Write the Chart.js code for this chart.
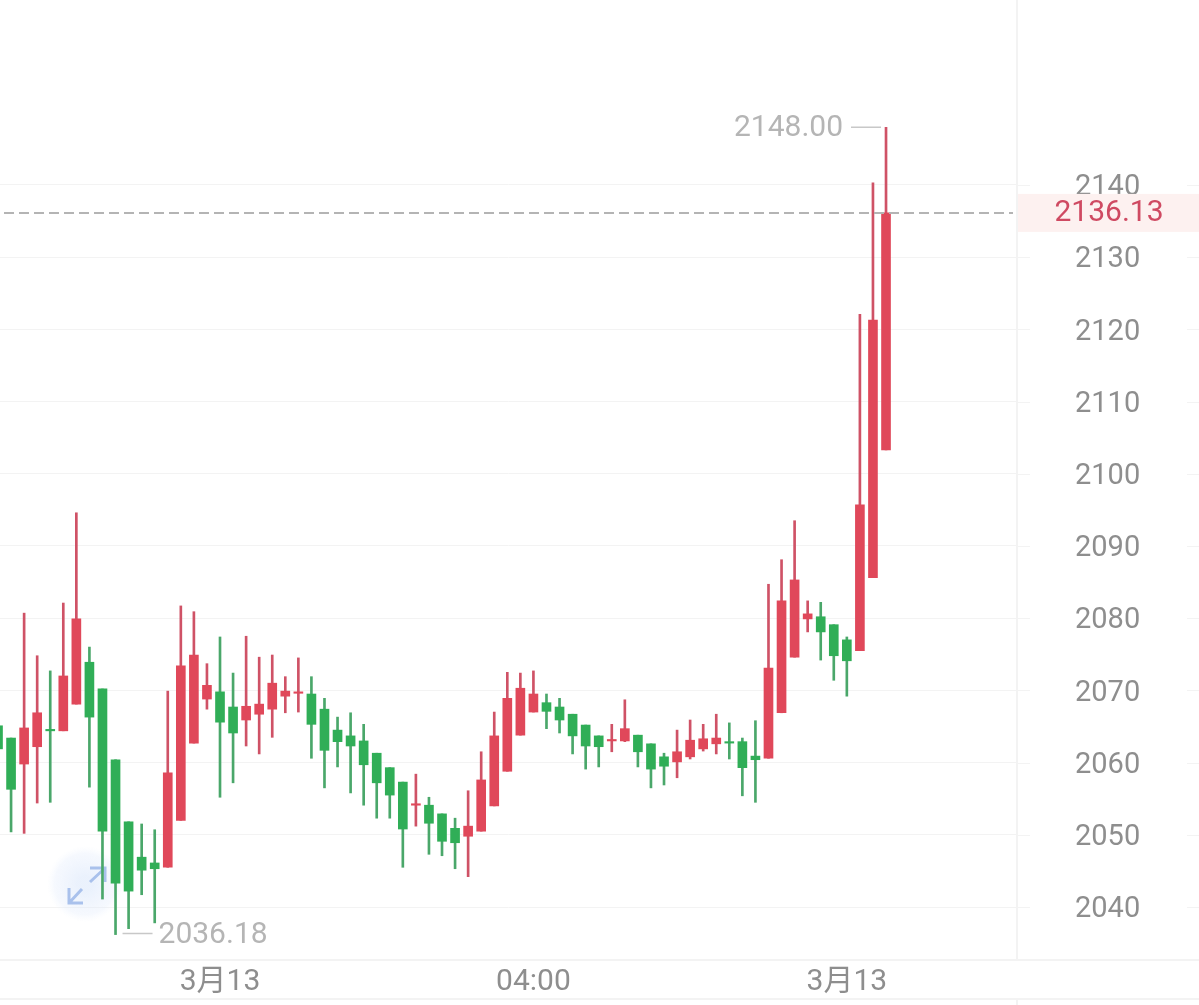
<!DOCTYPE html>
<html>
<head>
<meta charset="utf-8">
<title>K线</title>
<script src="https://cdn.jsdelivr.net/npm/chart.js@4/dist/chart.umd.min.js"></script>
<style>
    html, body { margin: 0; padding: 0; background: #fff; }
    canvas { display: block; }
</style>
</head>
<body>
<canvas id="kline" width="1199" height="1005"></canvas>
<script>
// values, candle by candle
const opens = [2065.1, 2063.4, 2059.8, 2062.2, 2064.6, 2064.4, 2068.1, 2073.9, 2070.2, 2060.4,
    2051.8, 2046.9, 2046.1, 2045.5, 2052.0, 2062.7, 2068.8, 2069.8, 2067.7, 2065.9,
    2066.7, 2067.4, 2069.2, 2069.6, 2069.5, 2067.4, 2064.5, 2063.7, 2063.0, 2061.3,
    2059.3, 2057.3, 2054.1, 2054.1, 2052.9, 2050.9, 2049.8, 2050.5, 2054.0, 2058.8,
    2063.8, 2067.0, 2068.3, 2067.7, 2066.7, 2065.2, 2063.7, 2063.0, 2063.0, 2063.8,
    2062.6, 2060.8, 2060.1, 2060.8, 2061.9, 2062.6, 2062.9, 2062.9, 2060.9, 2060.6,
    2066.9, 2074.6, 2079.9, 2080.2, 2079.1, 2077.0, 2075.5, 2085.6, 2103.3];
const closes = [2061.9, 2056.3, 2064.8, 2066.9, 2064.4, 2072.0, 2079.9, 2066.3, 2050.5, 2043.3,
    2042.2, 2045.1, 2045.3, 2058.6, 2073.4, 2074.9, 2070.7, 2065.6, 2064.1, 2067.8,
    2068.1, 2071.0, 2069.9, 2069.8, 2065.3, 2061.7, 2062.9, 2062.3, 2059.7, 2057.2,
    2055.5, 2050.8, 2054.3, 2051.6, 2049.1, 2048.9, 2051.2, 2057.6, 2063.7, 2068.9,
    2070.3, 2069.5, 2067.1, 2065.9, 2063.7, 2062.3, 2062.2, 2063.2, 2064.7, 2061.5,
    2059.1, 2059.5, 2061.5, 2063.1, 2063.3, 2063.4, 2062.7, 2059.3, 2060.4, 2073.1,
    2082.4, 2085.3, 2080.6, 2078.1, 2074.8, 2074.1, 2095.7, 2121.3, 2136.13];
const highs = [2065.1, 2063.4, 2080.7, 2074.8, 2072.7, 2082.1, 2094.6, 2076.0, 2070.2, 2060.4,
    2051.8, 2051.5, 2050.7, 2069.9, 2081.7, 2080.9, 2073.7, 2077.4, 2072.4, 2077.5,
    2074.6, 2074.9, 2071.9, 2074.5, 2071.9, 2068.9, 2066.3, 2066.9, 2065.3, 2061.3,
    2059.3, 2057.3, 2058.4, 2055.2, 2052.9, 2052.3, 2056.1, 2061.5, 2067.0, 2072.5,
    2072.4, 2072.7, 2069.5, 2068.9, 2066.7, 2065.2, 2063.7, 2065.3, 2068.7, 2063.8,
    2062.6, 2061.3, 2064.5, 2065.9, 2065.3, 2066.7, 2065.5, 2063.4, 2065.8, 2084.7,
    2088.1, 2093.5, 2082.4, 2082.2, 2079.1, 2077.4, 2122.1, 2140.3, 2148.00];
const lows = [2061.5, 2050.4, 2050.2, 2054.4, 2054.5, 2064.4, 2068.1, 2056.6, 2041.1, 2036.18,
    2037.0, 2041.7, 2037.8, 2045.5, 2052.0, 2062.7, 2067.4, 2055.2, 2057.2, 2062.3,
    2061.2, 2063.5, 2066.9, 2067.0, 2060.6, 2056.5, 2059.4, 2055.8, 2054.1, 2052.3,
    2052.3, 2045.5, 2051.2, 2047.3, 2047.1, 2045.3, 2044.2, 2050.5, 2054.0, 2058.8,
    2063.8, 2067.0, 2064.7, 2064.1, 2061.2, 2059.1, 2059.4, 2061.5, 2062.9, 2059.4,
    2056.5, 2056.9, 2057.9, 2060.5, 2061.6, 2061.2, 2060.5, 2055.4, 2054.5, 2060.6,
    2066.9, 2074.6, 2078.1, 2074.2, 2071.4, 2069.2, 2075.5, 2085.6, 2103.3];

const priceTicks = [2040, 2050, 2060, 2070, 2080, 2090, 2100, 2110, 2120, 2130, 2140];
const timeTickIdx = [17, 41, 65];
const timeTickLabels = ["3月13", "04:00", "3月13"];

const UP = "#e0485a", DOWN = "#30ae57";
const UP_WICK = "#cf5266", DOWN_WICK = "#4aa76a";
const FONT = "Roboto, 'Noto Sans CJK SC', sans-serif";
const LINE = "#f3f3f3";

const isUp = i => closes[i] >= opens[i];

const overlay = {
    id: "overlay",
    // expand button sits under the candles
    beforeDatasetsDraw(chart) {
        const { ctx } = chart;
        const cx = 85, cy = 884;
        ctx.save();
        const glow = ctx.createRadialGradient(cx, cy, 8, cx, cy, 38);
        glow.addColorStop(0, "rgba(214,228,250,0.5)");
        glow.addColorStop(0.75, "rgba(224,234,252,0.3)");
        glow.addColorStop(1, "rgba(235,242,254,0)");
        ctx.fillStyle = glow;
        ctx.beginPath();
        ctx.arc(cx, cy, 38, 0, Math.PI * 2);
        ctx.fill();
        ctx.strokeStyle = "#a9c1ec";
        ctx.lineWidth = 3;
        ctx.beginPath();
        ctx.moveTo(90, 868); ctx.lineTo(105, 868); ctx.lineTo(105, 882);
        ctx.moveTo(105, 868); ctx.lineTo(90, 882);
        ctx.moveTo(69, 888); ctx.lineTo(69, 903); ctx.lineTo(83, 903);
        ctx.moveTo(69, 903); ctx.lineTo(82, 889);
        ctx.stroke();
        ctx.restore();
    },
    afterDraw(chart) {
        const { ctx, scales: { x, y }, chartArea, width, height } = chart;
        const last = closes.length - 1;
        const lastY = y.getPixelForValue(closes[last]);

        ctx.save();
        // frame lines
        ctx.strokeStyle = LINE;
        ctx.lineWidth = 2;
        ctx.beginPath();
        ctx.moveTo(0, chartArea.bottom); ctx.lineTo(width, chartArea.bottom);
        ctx.moveTo(0, 999); ctx.lineTo(width, 999);
        ctx.moveTo(chartArea.right, 0); ctx.lineTo(chartArea.right, chartArea.bottom);
        ctx.moveTo(chartArea.right, 999); ctx.lineTo(chartArea.right, height);
        ctx.stroke();

        // grid stubs either side of the price labels
        ctx.lineWidth = 1;
        ctx.beginPath();
        priceTicks.forEach(v => {
            const py = Math.round(y.getPixelForValue(v)) + 0.5;
            ctx.moveTo(chartArea.right, py); ctx.lineTo(1030, py);
            ctx.moveTo(1187, py); ctx.lineTo(width, py);
        });
        ctx.stroke();

        // last price
        ctx.fillStyle = "#fdf1f0";
        ctx.fillRect(chartArea.right + 1, lastY - 19, width - chartArea.right, 38);
        ctx.strokeStyle = "#b4b4b4";
        ctx.lineWidth = 2;
        ctx.setLineDash([10, 5]);
        ctx.beginPath();
        ctx.moveTo(4, lastY); ctx.lineTo(chartArea.right - 4, lastY);
        ctx.stroke();
        ctx.setLineDash([]);
        ctx.font = "30px " + FONT;
        ctx.textAlign = "center";
        ctx.textBaseline = "middle";
        ctx.fillStyle = "#cf4a62";
        ctx.fillText(closes[last].toFixed(2), 1109, lastY + 1);

        // highest / lowest markers
        const maxHigh = Math.max(...highs), minLow = Math.min(...lows);
        const hx = x.getPixelForValue(highs.indexOf(maxHigh)), hy = y.getPixelForValue(maxHigh);
        const lx = x.getPixelForValue(lows.indexOf(minLow)), ly = y.getPixelForValue(minLow);
        ctx.strokeStyle = "#c8c8c8";
        ctx.lineWidth = 1.5;
        ctx.beginPath();
        ctx.moveTo(hx - 35, hy); ctx.lineTo(hx - 5, hy);
        ctx.moveTo(lx + 7, ly - 1); ctx.lineTo(lx + 37, ly - 1);
        ctx.stroke();
        ctx.fillStyle = "#b5b5b5";
        ctx.textAlign = "right";
        ctx.fillText(maxHigh.toFixed(2), hx - 43, hy + 1);
        ctx.textAlign = "left";
        ctx.fillText(minLow.toFixed(2), lx + 43, ly + 1);
        ctx.restore();
    }
};

new Chart(document.getElementById("kline"), {
    type: "bar",
    data: {
        datasets: [
            {
                label: "wick",
                data: highs.map((h, i) => ({ x: i, y: [lows[i], h] })),
                backgroundColor: highs.map((_, i) => isUp(i) ? UP_WICK : DOWN_WICK),
                barThickness: 2,
                order: 2
            },
            {
                label: "body",
                data: opens.map((o, i) => ({ x: i, y: [o, closes[i]] })),
                backgroundColor: opens.map((_, i) => isUp(i) ? UP : DOWN),
                barThickness: 9,
                order: 1
            }
        ]
    },
    options: {
        responsive: false,
        animation: false,
        events: [],
        layout: { padding: 0 },
        plugins: { legend: { display: false }, tooltip: { enabled: false }, title: { display: false } },
        datasets: { bar: { grouped: false } },
        scales: {
            x: {
                type: "linear",
                offset: false,
                min: 0.153,
                max: 78.03,
                grid: { display: false, drawTicks: false },
                border: { display: false },
                afterBuildTicks: s => { s.ticks = timeTickIdx.map(v => ({ value: v })); },
                afterFit: s => { s.height = 45; },
                ticks: {
                    autoSkip: false,
                    maxRotation: 0,
                    padding: 4,
                    color: "#8e8e8e",
                    font: { family: FONT, size: 30 },
                    callback: v => timeTickLabels[timeTickIdx.indexOf(v)]
                }
            },
            y: {
                position: "right",
                min: 2032.66,
                max: 2165.62,
                grid: { color: LINE, lineWidth: 1, drawTicks: false },
                border: { display: false },
                afterBuildTicks: s => { s.ticks = priceTicks.map(v => ({ value: v })); },
                // the big tick padding must not push the plot area in
                afterFit: s => { s.width = 182; s.paddingTop = 0; s.paddingBottom = 0; },
                ticks: {
                    crossAlign: "center",
                    padding: 58,
                    labelOffset: 3,
                    color: "#8e8e8e",
                    font: { family: FONT, size: 29 },
                    callback: v => String(v)
                }
            }
        }
    },
    plugins: [overlay]
});
</script>
</body>
</html>
